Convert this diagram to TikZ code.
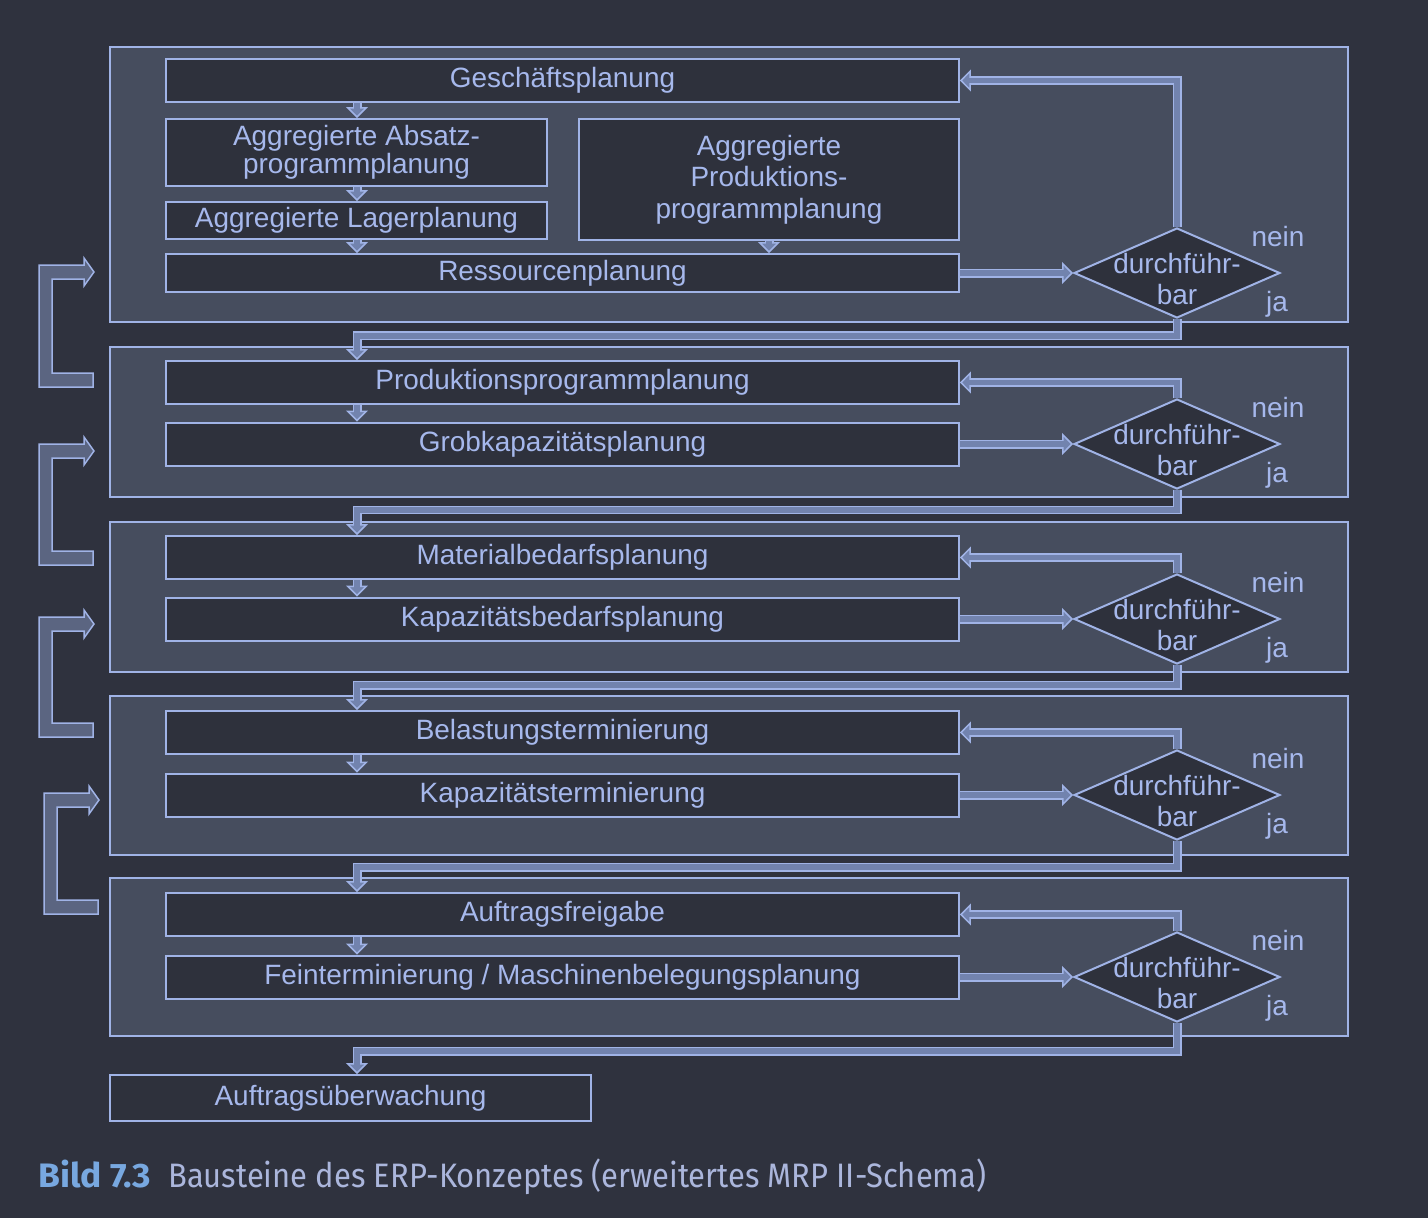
\documentclass[tikz,border=0pt]{standalone}
\usepackage{fontspec}
\setmainfont{Liberation Sans}
\newfontfamily\capfont[FakeStretch=0.912,BoldFeatures={FakeStretch=1.045}]{Fira Sans}
\usepackage{tikz}
\usetikzlibrary{arrows.meta,positioning,shapes.geometric,calc}
\definecolor{Back}{HTML}{2F323E}
\definecolor{Panel}{HTML}{464D5E}
\definecolor{Ink}{HTML}{2E313C}
\definecolor{Edge}{HTML}{A0B3E6}
\definecolor{Txt}{HTML}{A6B8EC}
\definecolor{Shaft}{HTML}{7283AE}
\definecolor{Loop}{HTML}{5B6581}
\definecolor{Accent}{HTML}{78A8E0}
\definecolor{Cap}{HTML}{ABB6DC}

\begin{document}
\begin{tikzpicture}[x=0.02cm,y=-0.02cm,
  panel/.style={draw=Edge,fill=Panel,line width=0.05cm,minimum width=24.76cm,inner sep=0pt},
  box/.style={draw=Edge,fill=Ink,line width=0.04cm,text=Txt,inner sep=0pt,align=center,font=\fontsize{15.9}{14.8}\selectfont},
  wide/.style={box,minimum width=15.86cm,minimum height=0.86cm},
  half/.style={box,minimum width=7.62cm},
  check/.style={diamond,draw=Edge,fill=Ink,line width=0.04cm,minimum width=4.12cm,minimum height=1.8cm,inner sep=0pt},
  checktext/.style={text=Txt,align=center,inner sep=0pt,font=\fontsize{15.9}{17.6}\selectfont},
  note/.style={text=Txt,inner sep=0pt,font=\fontsize{15.9}{18}\selectfont},
  flow/.style={draw=Edge,line width=0.18cm,-{Triangle[length=0.22cm,width=0.44cm,line width=0.03cm,fill=Shaft]},
    postaction={draw=Shaft,line width=0.11cm,-,shorten >=0.16cm}},
  loopback/.style={draw=Edge,fill=Loop,line width=0.03cm}
]
\fill[Back] (0,0) rectangle (1428,1218);
\useasboundingbox (0,0) rectangle (1428,1218);

% sections
\node[panel,minimum height=5.5cm] (s1) at (729,184.5) {};
\node[panel,minimum height=3.0cm] (s2) at (729,422) {};
\node[panel,minimum height=3.0cm] (s3) at (729,597) {};
\node[panel,minimum height=3.18cm] (s4) at (729,775.5) {};
\node[panel,minimum height=3.16cm] (s5) at (729,957) {};

% planning steps
\node[wide] (g) at (562.5,80.5) {Geschäftsplanung};
\node[half,minimum height=1.34cm] (a1) at (356.5,152.5) {Aggregierte Absatz-\\programmplanung};
\node[half,minimum height=0.74cm] (a2) at (356.5,220.5) {Aggregierte Lagerplanung};
\node[box,minimum width=7.6cm,minimum height=2.42cm,font=\fontsize{15.9}{17.9}\selectfont] (a3) at (769,179.5) {Aggregierte\\Produktions-\\programmplanung};
\node[wide,minimum height=0.76cm] (r) at (562.5,273) {Ressourcenplanung};
\node[wide] (p1) at (562.5,382.5) {Produktionsprogrammplanung};
\node[wide] (p2) at (562.5,444) {Grobkapazitätsplanung};
\node[wide] (m1) at (562.5,557.5) {Materialbedarfsplanung};
\node[wide] (m2) at (562.5,619) {Kapazitätsbedarfsplanung};
\node[wide] (b1) at (562.5,732.5) {Belastungsterminierung};
\node[wide] (b2) at (562.5,795) {Kapazitätsterminierung};
\node[wide] (f1) at (562.5,914.5) {Auftragsfreigabe};
\node[wide] (f2) at (562.5,977) {Feinterminierung / Maschinenbelegungsplanung};
\node[box,minimum width=9.62cm,minimum height=0.92cm] (u) at (350.5,1098) {Auftragsüberwachung};

% checks
\node[check] (d1) at (1177,273) {};
\node[check] (d2) at (1177,444) {};
\node[check] (d3) at (1177,619) {};
\node[check] (d4) at (1177,795) {};
\node[check] (d5) at (1177,977) {};
\foreach \d in {d1,d2,d3,d4,d5} {
  \node[checktext] (t\d) at ($(\d)+(0,6)$) {durchführ-\\bar};
  \node[note] (no\d) at ($(\d)+(101,-36)$) {nein};
  \node[note] (yes\d) at ($(\d)+(100,31)$) {ja};
}

\coordinate (dropx) at (357,0);

% connectors
\foreach \hi/\lo/\d in {g/r/d1,p1/p2/d2,m1/m2/d3,b1/b2/d4,f1/f2/d5} {
  \draw[flow] (\lo.east) -- (\d.west);
  \draw[flow] (\d.north) |- (\hi.east);
}
\foreach \a/\b in {g/a1,a1/a2,a2/r,p1/p2,m1/m2,b1/b2,f1/f2} {
  \draw[flow] (dropx |- \a.south) -- (dropx |- \b.north);
}
\draw[flow] (a3.south) -- (a3.south |- r.north);
\foreach \d/\n/\dy in {d1/p1/17,d2/m1/20,d3/b1/20,d4/f1/26,d5/u/28} {
  \draw[flow] (\d.south) -- ++(0,\dy) -| (dropx |- \n.north);
}

% loops back on the left
\foreach \yt/\yb/\dx in {272/380/0,451/558/0,624/730/0,800/907/5} {
  \draw[loopback] ({39+\dx},{\yt-7}) -- ({84+\dx},{\yt-7}) -- ({84+\dx},{\yt-14}) -- ({94+\dx},\yt)
    -- ({84+\dx},{\yt+14}) -- ({84+\dx},{\yt+7}) -- ({52+\dx},{\yt+7}) -- ({52+\dx},{\yb-7})
    -- ({93+\dx},{\yb-7}) -- ({93+\dx},{\yb+7}) -- ({39+\dx},{\yb+7}) -- cycle;
}

\node[anchor=base west,inner sep=0pt,text=Cap,font=\capfont\fontsize{19.3}{22}\selectfont] (cap) at (38,1187)
  {\textcolor{Accent}{\bfseries Bild 7.3}\hspace{0.34cm}Bausteine des ERP-Konzeptes (erweitertes MRP II-Schema)};
\end{tikzpicture}
\end{document}
